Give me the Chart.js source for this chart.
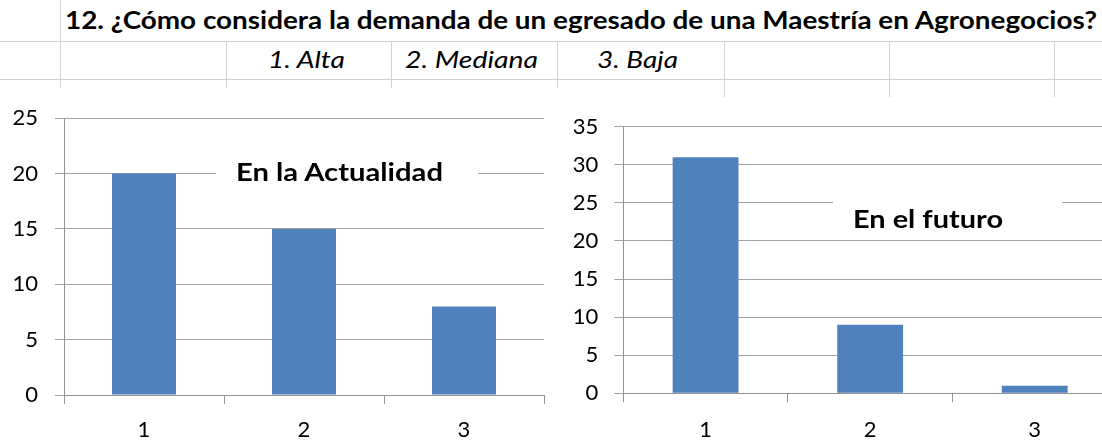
<!DOCTYPE html>
<html><head><meta charset="utf-8">
<script src="https://cdn.jsdelivr.net/npm/chart.js@4/dist/chart.umd.min.js"></script>
<style>
html,body{margin:0;padding:0;width:1102px;height:442px;overflow:hidden;background:#fff;font-family:Lato,"Open Sans",sans-serif}
.hl{position:absolute;left:0;width:1102px;height:1px;background:#d2d2d2}
.vl{position:absolute;width:1px;background:#d2d2d2}
.t{position:absolute;white-space:nowrap;color:#000;transform-origin:0 0;line-height:1}
.box{position:absolute;background:#fff}
canvas{position:absolute;background:#fff}
</style></head><body>
<div class="hl" style="top:41px"></div>
<div class="hl" style="top:79px"></div>
<div class="vl" style="left:60px;top:0;height:88px"></div>
<div class="vl" style="left:226px;top:42px;height:46px"></div>
<div class="vl" style="left:391px;top:42px;height:46px"></div>
<div class="vl" style="left:557px;top:42px;height:46px"></div>
<div class="vl" style="left:724px;top:42px;height:55px"></div>
<div class="vl" style="left:889px;top:42px;height:55px"></div>
<div class="vl" style="left:1054px;top:42px;height:55px"></div>
<div class="t" data-w="1032" style="left:65px;top:8px;font-size:24px;font-weight:700">12. ¿Cómo considera la demanda de un egresado de una Maestría en Agronegocios?</div>
<div class="t" data-w="77" style="left:268px;top:47px;font-size:24px;font-style:italic">1. Alta</div>
<div class="t" data-w="133" style="left:405px;top:47px;font-size:24px;font-style:italic">2. Mediana</div>
<div class="t" data-w="81" style="left:597px;top:47px;font-size:24px;font-style:italic">3. Baja</div>

<canvas id="c1" width="548" height="370" style="left:0;top:88px"></canvas>
<canvas id="c2" width="600" height="360" style="left:548px;top:97px"></canvas>

<div class="box" style="left:216px;top:158px;width:262px;height:34px"></div>
<div class="t" data-w="207" style="left:236px;top:158.5px;font-size:25px;font-weight:700">En la Actualidad</div>
<div class="box" style="left:833px;top:192px;width:229px;height:40px"></div>
<div class="t" data-w="150" style="left:853px;top:206px;font-size:25px;font-weight:700">En el futuro</div>

<script>
const categories = ['1', '2', '3'];
const actualidadValues = [20, 15, 8];
const futuroValues = [31, 9, 1];
const actualidadYTicks = [0, 5, 10, 15, 20, 25];
const futuroYTicks = [0, 5, 10, 15, 20, 25, 30, 35];

const BAR = '#4F81BD';
const GRID = '#a3a3a3';
const AXIS = '#939393';
const FONT = { family: 'Lato, "Open Sans", sans-serif', size: 22 };

function makeChart(id, values, yTicks, L) {
  new Chart(document.getElementById(id), {
    type: 'bar',
    data: {
      labels: categories,
      datasets: [{ data: values, backgroundColor: BAR, borderWidth: 0,
        barPercentage: 0.5, categoryPercentage: 0.8 }]
    },
    options: {
      responsive: false, animation: false, devicePixelRatio: 1,
      layout: { padding: { top: L.padTop, right: L.padRight, left: 0, bottom: 0 } },
      plugins: { legend: { display: false }, tooltip: { enabled: false }, title: { display: false } },
      scales: {
        x: {
          grid: { display: true, drawOnChartArea: false, drawTicks: true, tickLength: 9, color: AXIS, offset: true },
          border: { color: AXIS, width: 1 },
          ticks: { color: '#000', font: FONT, padding: L.xPad, maxRotation: 0 },
          afterFit: s => { s.height = L.xHeight; }
        },
        y: {
          min: yTicks[0], max: yTicks[yTicks.length - 1],
          afterBuildTicks: s => { s.ticks = yTicks.map(v => ({ value: v })); },
          grid: { color: GRID, tickLength: 9, drawTicks: true },
          border: { color: AXIS, width: 1 },
          ticks: { color: '#000', font: FONT, padding: L.yPad },
          afterFit: s => { s.width = L.yWidth; }
        }
      }
    }
  });
}

makeChart('c1', actualidadValues, actualidadYTicks,
  { padTop: 29, padRight: 4, xHeight: 63, yWidth: 64, xPad: 13, yPad: 17 });
makeChart('c2', futuroValues, futuroYTicks,
  { padTop: 29.7, padRight: 31, xHeight: 63.7, yWidth: 75.3, xPad: 14.5, yPad: 16 });

function fitTexts() {
  document.querySelectorAll('.t[data-w]').forEach(el => {
    el.style.transform = 'none';
    const w = el.getBoundingClientRect().width;
    const target = parseFloat(el.dataset.w);
    if (w > 0) el.style.transform = 'scaleX(' + (target / w) + ')';
  });
}
fitTexts();
if (document.fonts && document.fonts.ready) document.fonts.ready.then(fitTexts);
</script>
</body></html>
